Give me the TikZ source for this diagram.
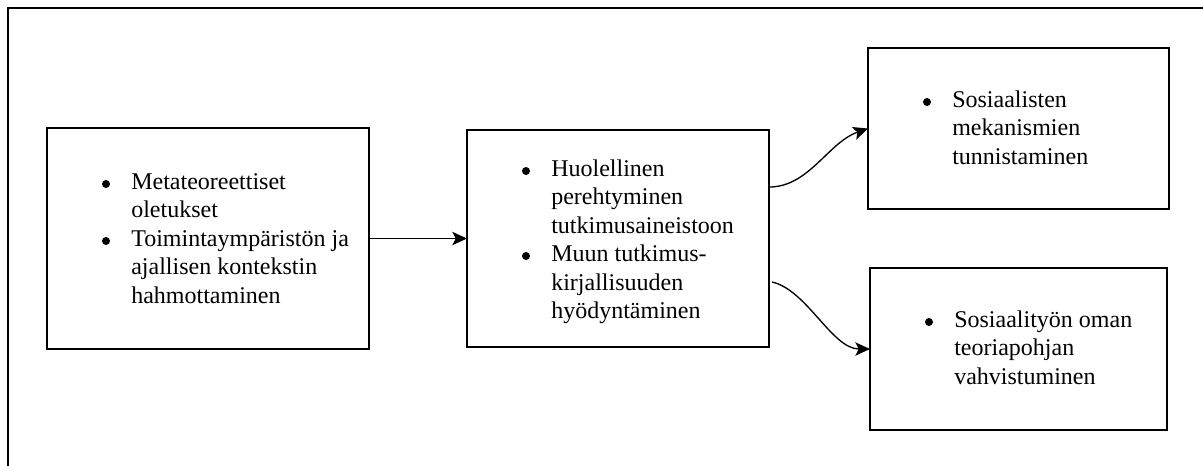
\documentclass[tikz,border=0pt]{standalone}
\usepackage{fontspec}
\setmainfont{Liberation Serif}
\newfontfamily\serifx{Liberation Serif}
\usetikzlibrary{arrows.meta}
\newcommand\txtlines[1]{\vtop{\baselineskip=21.4pt\lineskiplimit=-100pt\halign{##\hfil\cr #1\crcr}}}
\tikzset{
  boxnode/.style={draw, line width=1pt, inner sep=0pt, outer sep=0pt, rectangle},
  txtnode/.style={anchor=base west, inner sep=0pt, font=\serifx\fontsize{18pt}{21.4pt}\selectfont},
  bulnode/.style={circle, fill=black, inner sep=0pt, minimum size=6pt},
  conn/.style={line width=1pt, -{Stealth[length=11pt, width=10pt, inset=2.5pt]}},
  framestyle/.style={line width=1.5pt}
}
\begin{document}
\begin{tikzpicture}[x=0.75pt, y=-0.75pt]
\useasboundingbox (0,0) rectangle (1203,465);
% partial outer frame
\coordinate (fbl) at (8,466);
\coordinate (ftl) at (8,7.5);
\coordinate (ftr) at (1204,7.5);
\draw[framestyle] (fbl) -- (ftl) -- (ftr);

% boxes
\node[boxnode, minimum width=322*0.75pt, minimum height=221*0.75pt] (b1) at (208,238.5) {};
\node[boxnode, minimum width=302*0.75pt, minimum height=217*0.75pt] (b2) at (618,238.5) {};
\node[boxnode, minimum width=301*0.75pt, minimum height=161*0.75pt] (b3) at (1018.5,128.5) {};
\node[boxnode, minimum width=297*0.75pt, minimum height=162*0.75pt] (b4) at (1018.5,349) {};

% texts box 1
\node[bulnode] (b1u1) at (106,184) {};
\node[bulnode] (b1u2) at (106,241) {};
\node[txtnode] (b1t) at (131,189) {\txtlines{Metateoreettiset\cr oletukset\cr Toimintaympäristön ja\cr ajallisen kontekstin\cr hahmottaminen}};

% texts box 2
\node[bulnode] (b2u1) at (526,171) {};
\node[bulnode] (b2u2) at (526,256) {};
\node[txtnode] (b2t) at (551,176) {\txtlines{Huolellinen\cr perehtyminen\cr tutkimusaineistoon\cr Muun tutkimus-\cr kirjallisuuden\cr hyödyntäminen}};

% texts box 3
\node[bulnode] (b3u1) at (927,102) {};
\node[txtnode] (b3t) at (952,107) {\txtlines{Sosiaalisten\cr mekanismien\cr tunnistaminen}};

% texts box 4
\node[bulnode] (b4u1) at (929,322) {};
\node[txtnode] (b4t) at (954,327) {\txtlines{Sosiaalityön oman\cr teoriapohjan\cr vahvistuminen}};

% connectors
\draw[conn] (b1.east) -- (b2.west);
\coordinate (s2) at ([yshift=38.6pt]b2.east);
\coordinate (s3) at ([xshift=2.25pt, yshift=-32.6pt]b2.east);
\draw[conn] (s2) .. controls ++(40,0) and ++(-40,14) .. (b3.west);
\draw[conn] (s3) .. controls ++(35,8) and ++(-38,0) .. (b4.west);
\end{tikzpicture}
\end{document}
